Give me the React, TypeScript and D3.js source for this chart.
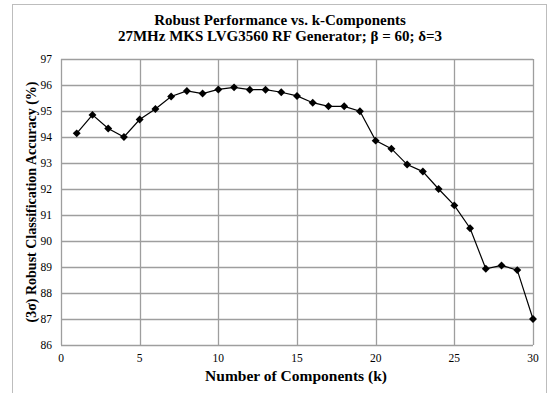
import React, { useRef, useEffect } from 'react';
import * as d3 from 'd3';

// Data
const components = [1, 2, 3, 4, 5, 6, 7, 8, 9, 10, 11, 12, 13, 14, 15, 16, 17, 18, 19, 20, 21, 22, 23, 24, 25, 26, 27, 28, 29, 30];
const accuracy = [94.14, 94.85, 94.33, 94.0, 94.67, 95.08, 95.56, 95.77, 95.67, 95.83, 95.91, 95.82, 95.82, 95.72, 95.58, 95.32, 95.18, 95.18, 94.99, 93.86, 93.55, 92.94, 92.67, 92.0, 91.37, 90.49, 88.93, 89.06, 88.88, 87.0];
const xTicks = [0, 5, 10, 15, 20, 25, 30];
const yTicks = [86, 87, 88, 89, 90, 91, 92, 93, 94, 95, 96, 97];

const titleLines = ['Robust Performance vs. k-Components', '27MHz MKS LVG3560 RF Generator; β = 60; δ=3'];
const xTitle = 'Number of Components (k)';
const yTitle = '(3σ) Robust Classification Accuracy (%)';

const App = () => {
    const ref = useRef(null);

    useEffect(() => {
        if (!ref.current) return;
        const svg = d3.select(ref.current);
        svg.selectAll('*').remove();

        const font = '"Liberation Serif", "Times New Roman", serif';
        const left = 61, right = 533, top = 59, bottom = 345;

        const x = d3.scaleLinear().domain([0, 30]).range([left, right]);
        const y = d3.scaleLinear().domain([86, 97]).range([bottom, top]);

        svg.append('rect').attr('width', 551).attr('height', 393).attr('fill', '#fff');

        // outer chart frame
        svg.append('rect')
            .attr('x', 12.5).attr('y', 4.5).attr('width', 534).attr('height', 400)
            .attr('fill', 'none').attr('stroke', '#bdbdbd').attr('stroke-width', 1);

        // titles
        svg.selectAll('.title')
            .data(titleLines)
            .join('text')
            .attr('class', 'title')
            .attr('x', 280)
            .attr('y', (d, i) => 25 + i * 15.5)
            .attr('text-anchor', 'middle')
            .style('font-family', font)
            .style('font-weight', 'bold')
            .style('font-size', '15px')
            .text(d => d);

        // grid
        svg.selectAll('.hgrid')
            .data(yTicks)
            .join('line')
            .attr('x1', left).attr('x2', right)
            .attr('y1', d => Math.round(y(d)) + 0.5).attr('y2', d => Math.round(y(d)) + 0.5)
            .attr('stroke', '#9e9e9e').attr('stroke-width', 1.3);

        svg.selectAll('.vgrid')
            .data(xTicks)
            .join('line')
            .attr('y1', top).attr('y2', bottom)
            .attr('x1', d => Math.round(x(d)) + 0.5).attr('x2', d => Math.round(x(d)) + 0.5)
            .attr('stroke', '#9e9e9e').attr('stroke-width', 1.3);

        // tick labels
        svg.selectAll('.ylab')
            .data(yTicks)
            .join('text')
            .attr('x', 52)
            .attr('y', d => y(d) + 4)
            .attr('text-anchor', 'end')
            .style('font-family', font)
            .style('font-size', '11.5px')
            .text(d => d);

        svg.selectAll('.xlab')
            .data(xTicks)
            .join('text')
            .attr('x', d => x(d))
            .attr('y', 362)
            .attr('text-anchor', 'middle')
            .style('font-family', font)
            .style('font-size', '11.5px')
            .text(d => d);

        // axis titles
        svg.append('text')
            .attr('x', 296).attr('y', 381)
            .attr('text-anchor', 'middle')
            .style('font-family', font)
            .style('font-weight', 'bold')
            .style('font-size', '15.5px')
            .text(xTitle);

        svg.append('text')
            .attr('transform', `translate(36,${(top + bottom) / 2}) rotate(-90)`)
            .attr('text-anchor', 'middle')
            .style('font-family', font)
            .style('font-weight', 'bold')
            .style('font-size', '14px')
            .text(yTitle);

        const pts = components.map((k, i) => [k, accuracy[i]]);

        const line = d3.line().x(d => x(d[0])).y(d => y(d[1]));
        svg.append('path')
            .datum(pts)
            .attr('d', line)
            .attr('fill', 'none')
            .attr('stroke', '#000')
            .attr('stroke-width', 1.2);

        const diamond = d3.symbol().type(d3.symbolDiamond2).size(40);
        svg.selectAll('.pt')
            .data(pts)
            .join('path')
            .attr('transform', d => `translate(${x(d[0])},${y(d[1])})`)
            .attr('d', diamond)
            .attr('fill', '#000');
    }, []);

    return <svg ref={ref} width={551} height={393} style={{ position: 'absolute', left: 0, top: 0 }} />;
};

export default App;
